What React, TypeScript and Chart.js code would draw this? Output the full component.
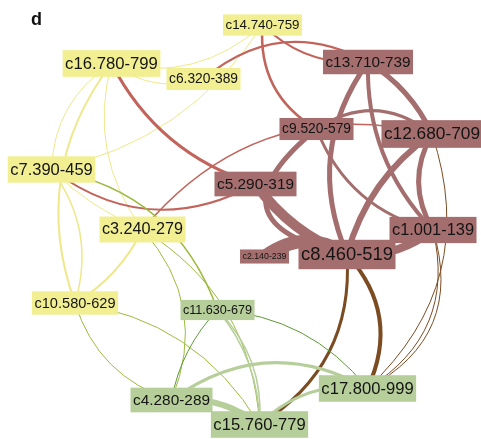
import { useEffect, useRef } from "react";
import { Chart, registerables } from "chart.js";

Chart.register(...registerables);

// Clusters (nodes): id, label, layout position, label font size, module
const nodeIds = ["c16", "c14", "c6", "c13", "c9", "c12", "c7", "c5", "c3", "c1", "c2", "c8", "c10", "c11", "c4", "c17", "c15"];
const nodeLabels = [
  "c16.780-799", "c14.740-759", "c6.320-389", "c13.710-739", "c9.520-579", "c12.680-709",
  "c7.390-459", "c5.290-319", "c3.240-279", "c1.001-139", "c2.140-239", "c8.460-519",
  "c10.580-629", "c11.630-679", "c4.280-289", "c17.800-999", "c15.760-779",
];
const nodeX = [111.5, 262.5, 203.5, 368, 316.5, 432, 51.5, 255.5, 142.5, 433, 264.5, 347, 75, 217.5, 171.5, 367.5, 259.5];
const nodeY = [63.5, 25, 79, 62, 129, 134, 169.5, 184, 229.5, 230, 256.5, 254.5, 303, 310, 400, 388.5, 424.5];
const nodeFont = [16.7, 13.3, 13.8, 15.3, 13.8, 17.3, 16.5, 15.4, 16.2, 16.4, 8.8, 18.4, 14.6, 12.6, 15.4, 16.6, 16.6];
const nodeModule = ["y", "y", "y", "m", "m", "m", "y", "m", "y", "m", "m", "m", "y", "g", "g", "g", "g"];

// Links between clusters
const edgeFrom = [
  "c16", "c16", "c7", "c16", "c16", "c7", "c16", "c7", "c3",
  "c16", "c7", "c3", "c14", "c14", "c6",
  "c13", "c13", "c13", "c9", "c12", "c12", "c9", "c9", "c5", "c2", "c8",
  "c8", "c8", "c12", "c1", "c1",
  "c7", "c3", "c3", "c10", "c10",
  "c11", "c11",
  "c4", "c4", "c15", "c11", "c11",
];
const edgeTo = [
  "c6", "c14", "c14", "c7", "c10", "c10", "c3", "c3", "c10",
  "c5", "c5", "c12", "c9", "c13", "c13",
  "c8", "c1", "c12", "c8", "c8", "c1", "c1", "c12", "c8", "c8", "c1",
  "c17", "c15", "c17", "c17", "c17",
  "c11", "c15", "c4", "c4", "c15",
  "c4", "c17",
  "c15", "c17", "c17", "c15", "c15",
];
const edgeWeight = [
  1, 1, 1, 1, 2, 1.5, 1, 1, 2,
  3, 2, 1.5, 2.5, 2, 2,
  5, 4, 5, 5, 6, 5, 3, 3, 10, 13, 8,
  4, 3, 1, 1, 1,
  1.5, 1, 1, 1, 1,
  1, 1,
  6, 3, 3, 1.5, 1.5,
];
const edgeBend = [
  0.25, 0.26, 0.21, 0.26, 0.27, -0.25, 0.24, 0.1, -0.15,
  0.21, 0.32, -0.31, 0.31, 0.23, -0.34,
  0.28, 0.21, -0.15, 1.04, 0.18, 0.29, 0.26, -0.36, 0.15, -0.34, 0.2,
  -0.33, -0.3, -0.32, -0.36, -0.41,
  -0.29, -0.26, -0.31, 0.26, -0.24,
  0.15, -0.22,
  -0.2, -0.32, -0.25, -0.18, -0.23,
];
const edgeKind = [
  "y", "y", "y", "y", "y", "y", "y", "y", "y",
  "r", "r", "r", "r", "r", "r",
  "m", "m", "m", "m", "m", "m", "m", "m", "m", "m", "m",
  "b", "b", "b", "b", "b",
  "o", "o", "o", "o", "o",
  "d", "d",
  "l", "l", "l", "l", "l",
];

const moduleFill: Record<string, string> = { y: "#f2ef93", m: "#a56e6e", g: "#b6ce99" };
const edgeColor: Record<string, string> = {
  y: "#eee88a",
  r: "#c2645b",
  m: "#a56e6e",
  b: "#7b4b22",
  o: "#9cbb3e",
  d: "#5c9a34",
  l: "#b6ce99",
};

const FONT = '"Liberation Sans", Arial, sans-serif';

const networkPlugin = {
  id: "networkPlugin",
  beforeDatasetsDraw(chart: any) {
    const { ctx } = chart;
    const xs = chart.scales.x;
    const ys = chart.scales.y;
    ctx.save();
    ctx.lineCap = "butt";
    for (let i = 0; i < edgeFrom.length; i++) {
      const a = nodeIds.indexOf(edgeFrom[i]);
      const b = nodeIds.indexOf(edgeTo[i]);
      const ax = xs.getPixelForValue(nodeX[a]);
      const ay = ys.getPixelForValue(nodeY[a]);
      const bx = xs.getPixelForValue(nodeX[b]);
      const by = ys.getPixelForValue(nodeY[b]);
      const dx = bx - ax;
      const dy = by - ay;
      const cx = (ax + bx) / 2 - dy * edgeBend[i];
      const cy = (ay + by) / 2 + dx * edgeBend[i];
      ctx.beginPath();
      ctx.moveTo(ax, ay);
      ctx.quadraticCurveTo(cx, cy, bx, by);
      ctx.strokeStyle = edgeColor[edgeKind[i]];
      ctx.lineWidth = edgeWeight[i];
      ctx.stroke();
    }
    ctx.restore();
  },
  afterDatasetsDraw(chart: any) {
    const { ctx } = chart;
    const xs = chart.scales.x;
    const ys = chart.scales.y;
    ctx.save();
    ctx.textAlign = "center";
    ctx.textBaseline = "middle";
    for (let i = 0; i < nodeIds.length; i++) {
      const px = xs.getPixelForValue(nodeX[i]);
      const py = ys.getPixelForValue(nodeY[i]);
      const fs = nodeFont[i];
      ctx.font = `${fs}px ${FONT}`;
      const w = ctx.measureText(nodeLabels[i]).width + 5;
      const h = fs * 1.6;
      ctx.fillStyle = moduleFill[nodeModule[i]];
      ctx.fillRect(px - w / 2, py - h / 2, w, h);
      ctx.fillStyle = "#141414";
      ctx.fillText(nodeLabels[i], px, py + 0.5);
    }
    // panel letter
    ctx.font = `bold 18px ${FONT}`;
    ctx.textAlign = "left";
    ctx.textBaseline = "alphabetic";
    ctx.fillStyle = "#111";
    ctx.fillText("d", 31, 25);
    ctx.restore();
  },
};

export default function App() {
  const canvasRef = useRef<HTMLCanvasElement | null>(null);

  useEffect(() => {
    const canvas = canvasRef.current;
    if (!canvas) return;
    const chart = new Chart(canvas, {
      type: "scatter",
      data: {
        datasets: [
          {
            data: nodeIds.map((_, i) => ({ x: nodeX[i], y: nodeY[i] })),
            pointRadius: 0,
            pointHoverRadius: 0,
          },
        ],
      },
      options: {
        responsive: false,
        animation: false,
        events: [],
        layout: { padding: 0 },
        scales: {
          x: { type: "linear", min: 0, max: 481, display: false },
          y: { type: "linear", min: 0, max: 439, reverse: true, display: false },
        },
        plugins: {
          legend: { display: false },
          tooltip: { enabled: false },
          title: { display: false },
        },
      },
      plugins: [networkPlugin],
    });
    return () => chart.destroy();
  }, []);

  return (
    <div style={{ position: "fixed", left: 0, top: 0, width: 481, height: 439, background: "#fff" }}>
      <canvas ref={canvasRef} width={481} height={439} style={{ display: "block" }} />
    </div>
  );
}
